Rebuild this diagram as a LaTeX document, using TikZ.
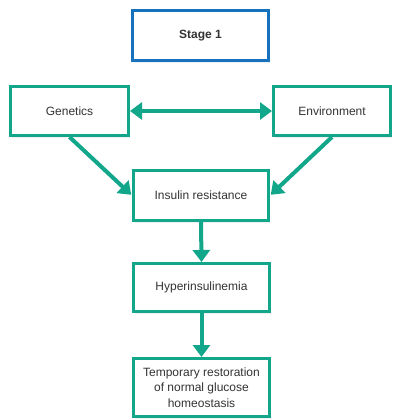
\documentclass[tikz,border=0pt]{standalone}
\usepackage{fontspec}
\setmainfont{Liberation Sans}
\usetikzlibrary{arrows.meta,shadows}
\definecolor{teal1}{RGB}{18,166,138}
\definecolor{blue1}{RGB}{22,114,188}
\begin{document}
\begin{tikzpicture}[x=1pt,y=-1pt,
  box/.style={draw=teal1, line width=3pt, fill=white, align=center,
    font=\fontsize{12}{15.5}\selectfont, text=black!80,
    drop shadow={opacity=0.12, shadow xshift=1pt, shadow yshift=-2.5pt}},
  flow/.style={draw=teal1, line width=4pt, -{Triangle[length=12pt,width=17pt]}}]
\useasboundingbox[fill=white] (0,0) rectangle (392,419);
\node[box, draw=blue1, minimum width=136pt, minimum height=50pt, font=\fontsize{12}{15.5}\selectfont\bfseries] (stage) at (200.5,35.5) {Stage 1};
\node[box, minimum width=118pt, minimum height=49pt] (gen) at (69.5,111) {Genetics};
\node[box, minimum width=117pt, minimum height=49pt] (env) at (332,111) {Environment};
\node[box, minimum width=135pt, minimum height=50pt] (ins) at (201,195.5) {Insulin resistance};
\node[box, minimum width=136pt, minimum height=48pt] (hyp) at (201.5,287.5) {Hyperinsulinemia};
\node[box, minimum width=136pt, minimum height=58pt] (tmp) at (201.5,387.5) {Temporary restoration\\of normal glucose\\homeostasis};
\draw[flow, {Triangle[length=12pt,width=17pt]}-{Triangle[length=12pt,width=17pt]}] (gen.east) -- (env.west);
\draw[flow, shorten >=1pt] (gen.south) -- (ins.west);
\draw[flow, shorten >=1pt] (env.south) -- (ins.east);
\draw[flow] (ins.south) -- (hyp.north);
\draw[flow] (hyp.south) -- (tmp.north);
\end{tikzpicture}
\end{document}
